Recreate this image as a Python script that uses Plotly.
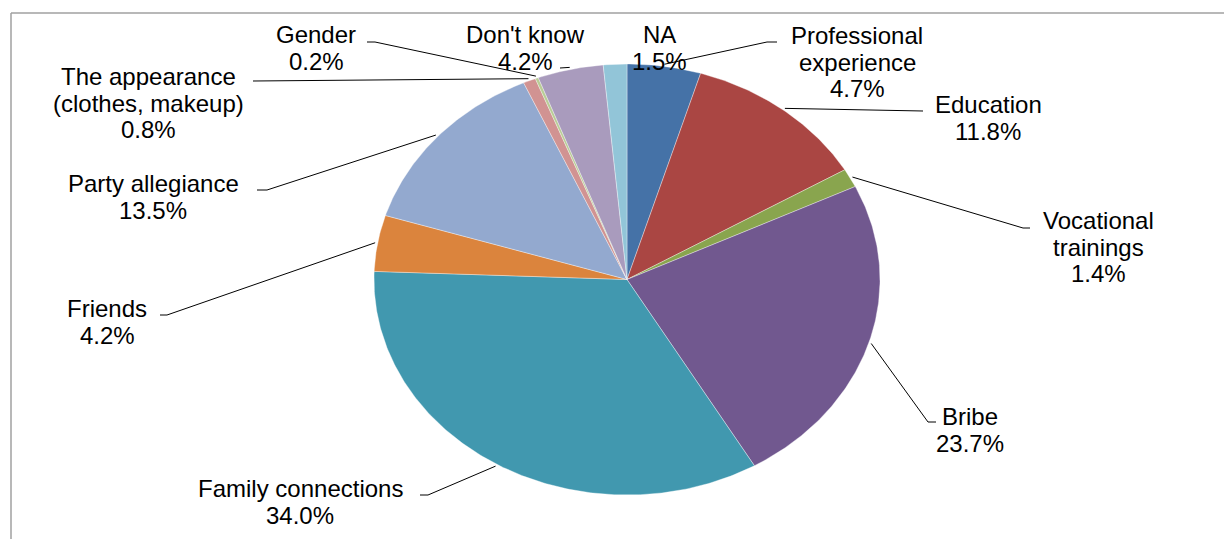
import numpy as np
import plotly.graph_objects as go

# ---------------- data ----------------
categories = ["Professional\nexperience", "Education", "Vocational\ntrainings", "Bribe",
              "Family connections", "Friends", "Party allegiance",
              "The appearance\n(clothes, makeup)", "Gender", "Don't know", "NA"]
values = [4.7, 11.8, 1.4, 23.7, 34.0, 4.2, 13.5, 0.8, 0.2, 4.2, 1.5]
colors = ["#4572A7", "#AA4643", "#89A54E", "#71588F", "#4198AF", "#DB843D",
          "#93A9CF", "#D19392", "#B9CD96", "#A99BBD", "#92C5D8"]

# ---------------- layout (window pixels) ----------------
OFF = 8                       # default body margin of the html page
W, H = 1232 - OFF, 539 - OFF  # figure size
CX, CY, RX, RY = 627.0, 279.5, 253.0, 215.5   # ellipse centre / radii in window px

def to_data(px, py):
    return (px - CX) / RX, (CY - py) / RY

# label centre (px), elbow point and stub end (px) for each category
label_pos = [
    (857, 62, (767, 42), (777, 42)),
    (988, 118, (915, 111), (923, 111)),
    (1098, 247, (1023, 228), (1030, 228)),
    (970, 430, (928, 422), (936, 422)),
    (300, 502, (428, 495), (420, 495)),
    (107, 322, (167, 315), (160, 315)),
    (153, 197, (267, 190), (257, 190)),
    (148, 103, (262, 81), (253, 81)),
    (316, 48, (375, 42), (367, 42)),
    (525, 48, (563, 68), (560, 68)),
    (659, 48, None, None),
]
LINE_PITCH = 26.5
FONT = dict(family="Liberation Sans, Arial, sans-serif", size=24, color="#000000")

fig = go.Figure()

total = float(sum(values))
cum = 0.0
mids = []
for name, v, c in zip(categories, values, colors):
    a0 = cum / total * 2 * np.pi
    a1 = (cum + v) / total * 2 * np.pi
    cum += v
    t = np.linspace(a0, a1, max(4, int(v * 6)))
    xs = np.concatenate([[0.0], np.sin(t), [0.0]])
    ys = np.concatenate([[0.0], np.cos(t), [0.0]])
    fig.add_trace(go.Scatter(x=xs, y=ys, mode="lines", fill="toself",
                             fillcolor=c, line=dict(color="rgba(255,255,255,0.6)", width=0.6),
                             hoverinfo="text", text=f"{name.replace(chr(10), ' ')}: {v:.1f}%",
                             showlegend=False))
    mids.append((a0 + a1) / 2)

annotations = []
for name, v, m, (lx, ly, elbow, end) in zip(categories, values, mids, label_pos):
    lines = name.split("\n") + [f"{v:.1f}%"]
    n = len(lines)
    for i, s in enumerate(lines):
        py = ly + (i - (n - 1) / 2) * LINE_PITCH
        dx, dy = to_data(lx, py)
        annotations.append(dict(x=dx, y=dy, xref="x", yref="y", text=s, showarrow=False,
                                xanchor="center", yanchor="middle", font=FONT))
    if elbow is not None:
        ex, ey = np.sin(m) * 1.01, np.cos(m) * 1.01
        bx, by = to_data(*elbow)
        sx, sy = to_data(*end)
        fig.add_trace(go.Scatter(x=[ex, bx, sx], y=[ey, by, sy], mode="lines",
                                 line=dict(color="#000000", width=1),
                                 hoverinfo="skip", showlegend=False))

x_range = [(OFF - CX) / RX, (OFF + W - CX) / RX]
y_range = [(CY - (OFF + H)) / RY, (CY - OFF) / RY]

fig.update_layout(
    width=W, height=H,
    margin=dict(l=0, r=0, t=0, b=0),
    paper_bgcolor="white", plot_bgcolor="white",
    xaxis=dict(range=x_range, visible=False, fixedrange=True),
    yaxis=dict(range=y_range, visible=False, fixedrange=True),
    annotations=annotations,
    shapes=[
        dict(type="line", xref="paper", yref="paper", x0=(11 - OFF) / W, x1=1.0,
             y0=1 - (13 - OFF) / H, y1=1 - (13 - OFF) / H,
             line=dict(color="#a0a0a0", width=1.5)),
        dict(type="line", xref="paper", yref="paper", x0=(11 - OFF) / W, x1=(11 - OFF) / W,
             y0=0, y1=1 - (13 - OFF) / H, line=dict(color="#a0a0a0", width=1.5)),
    ],
)

fig.write_html("out.html")
